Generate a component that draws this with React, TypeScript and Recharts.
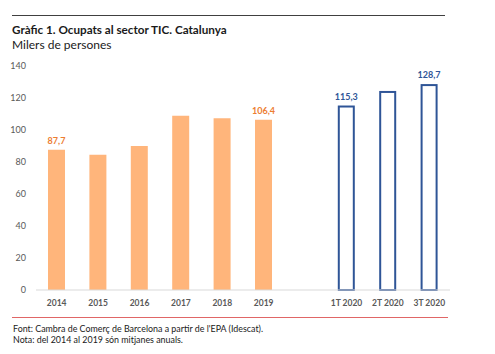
import React from 'react';
import { BarChart, Bar, XAxis, YAxis, LabelList } from 'recharts';

const years = ['2014', '2015', '2016', '2017', '2018', '2019'];
const annualValues = [87.7, 84.5, 90.0, 108.9, 107.3, 106.4];
const annualLabelled = ['2014', '2019'];

const quarters = ['1T 2020', '2T 2020', '3T 2020'];
const quarterValues = [115.3, 124.4, 128.7];
const quarterLabelled = ['1T 2020', '3T 2020'];

const yTicks = [0, 20, 40, 60, 80, 100, 120, 140];

const fmt = (v: number) => v.toFixed(1).replace('.', ',');

type Row = { cat: string; annual?: number; quarter?: number; annualLabel?: string; quarterLabel?: string };

const data: Row[] = [
  ...years.map((y, i) => ({
    cat: y,
    annual: annualValues[i],
    annualLabel: annualLabelled.includes(y) ? fmt(annualValues[i]) : undefined,
  })),
  { cat: ' ' },
  ...quarters.map((q, i) => ({
    cat: q,
    quarter: quarterValues[i],
    quarterLabel: quarterLabelled.includes(q) ? fmt(quarterValues[i]) : undefined,
  })),
];

const FONT = 'Lato, "Open Sans", sans-serif';

const makeLabel = (color: string) => (props: any) => {
  const { x, y, width, value } = props;
  if (value === undefined || value === null || value === '') return null;
  return (
    <text x={x + width / 2} y={y - 6} textAnchor="middle" fill={color} fontSize={9} fontWeight={700} fontFamily={FONT}>
      {value}
    </text>
  );
};

const QuarterShape = (props: any) => {
  const { x, y, width, height } = props;
  if (!height) return null;
  return (
    <rect x={x + 1} y={y + 1} width={width - 2} height={height - 1} fill="#FFFFFF" stroke="#2F5597" strokeWidth={2} />
  );
};

export default function App() {
  return (
    <div style={{ position: 'absolute', left: 0, top: 0, width: 495, height: 354, background: '#fff', fontFamily: FONT }}>
      <BarChart width={495} height={354} data={data} margin={{ top: 66, right: 45, left: 0, bottom: 0 }} barSize={17}>
        <XAxis
          dataKey="cat"
          interval={0}
          height={64}
          axisLine={{ stroke: '#D9D9D9' }}
          tickLine={false}
          tickMargin={4}
          tick={{ fill: '#595959', fontSize: 8.5, fontWeight: 700, fontFamily: FONT }}
        />
        <YAxis
          domain={[0, 140]}
          ticks={yTicks}
          width={36}
          axisLine={false}
          tickLine={false}
          tickMargin={4}
          tick={{ fill: '#595959', fontSize: 9, fontFamily: FONT }}
        />
        <Bar dataKey="annual" stackId="s" fill="#FFB57B" isAnimationActive={false}>
          <LabelList dataKey="annualLabel" content={makeLabel('#ED7D31')} />
        </Bar>
        <Bar dataKey="quarter" stackId="s" shape={QuarterShape} isAnimationActive={false}>
          <LabelList dataKey="quarterLabel" content={makeLabel('#2F5597')} />
        </Bar>
      </BarChart>
      <div style={{ position: 'absolute', left: 12, top: 15, width: 433, height: 1, background: '#404040' }} />
      <div style={{ position: 'absolute', left: 12, top: 22, fontSize: 11.7, fontWeight: 700, color: '#1a1a1a', whiteSpace: 'nowrap' }}>
        Gràfic 1. Ocupats al sector TIC. Catalunya
      </div>
      <div style={{ position: 'absolute', left: 12, top: 37, fontSize: 12, color: '#1a1a1a', whiteSpace: 'nowrap' }}>
        Milers de persones
      </div>
      <div style={{ position: 'absolute', left: 12, top: 317, width: 436, height: 1, background: '#E06666' }} />
      <div style={{ position: 'absolute', left: 13, top: 323, fontSize: 8.9, color: '#1a1a1a', whiteSpace: 'nowrap', lineHeight: '11px' }}>
        Font: Cambra de Comerç de Barcelona a partir de l'EPA (Idescat).
        <br />
        Nota: del 2014 al 2019 són mitjanes anuals.
      </div>
    </div>
  );
}
